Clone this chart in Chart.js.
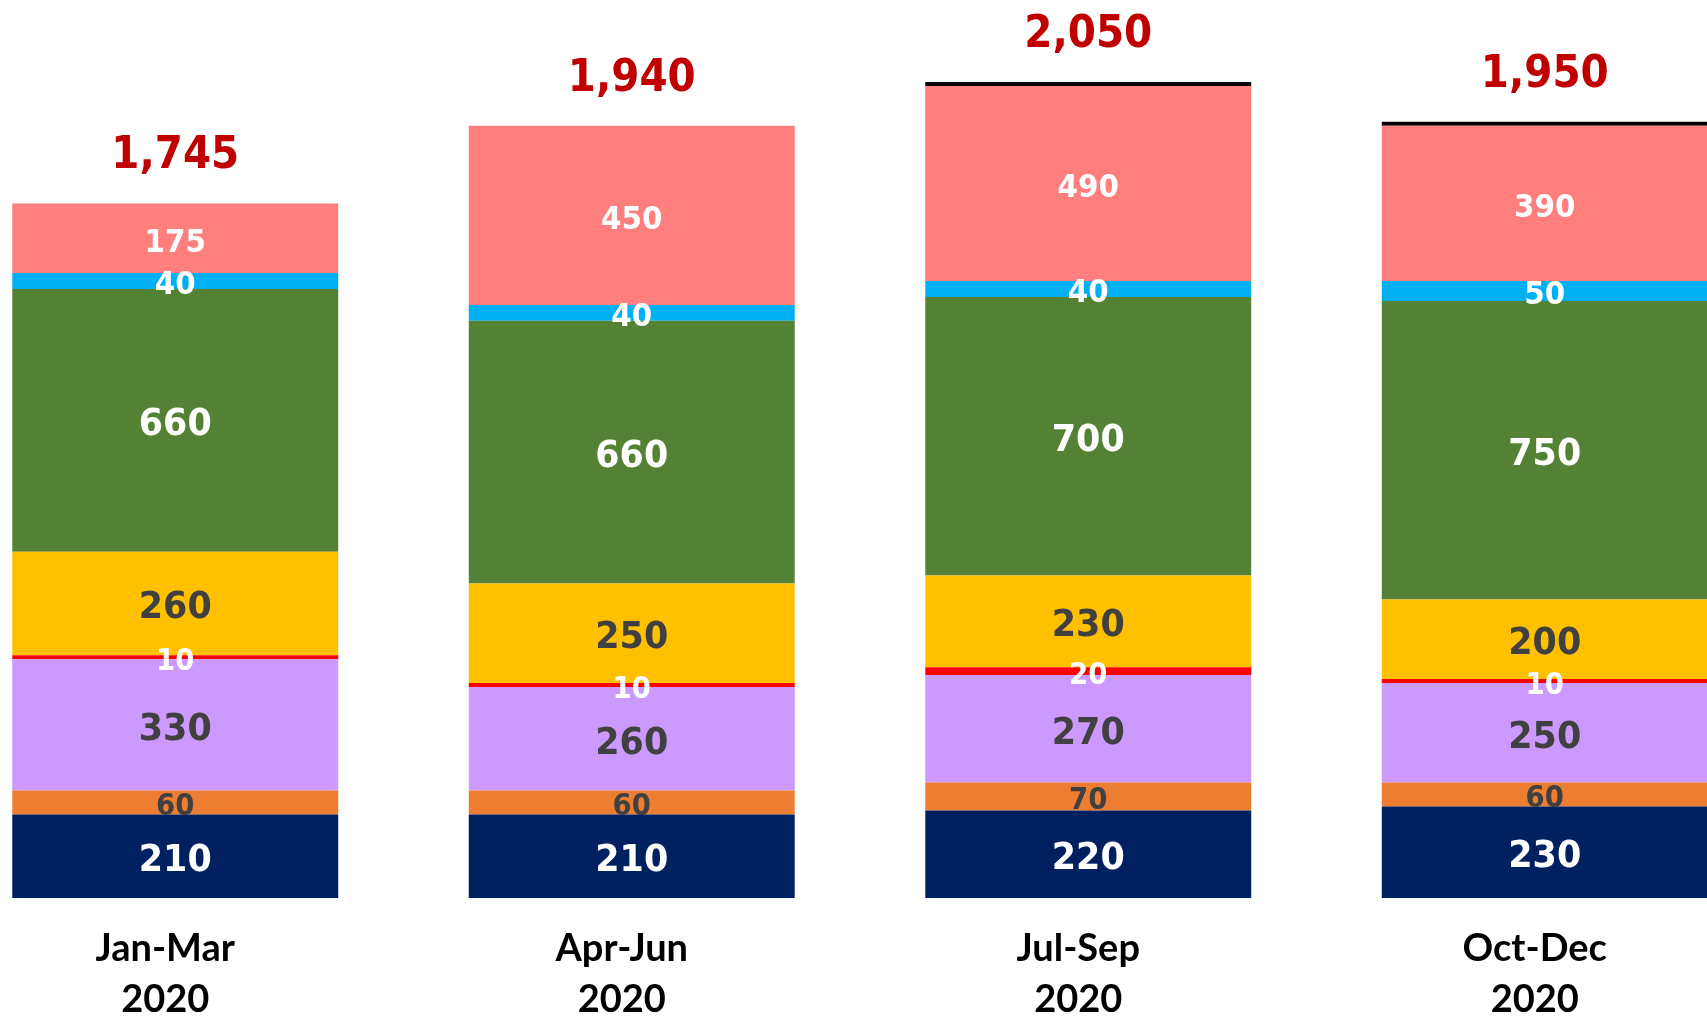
<!DOCTYPE html>
<html>
<head>
<meta charset="utf-8">
<script src="https://cdn.jsdelivr.net/npm/chart.js@4"></script>
<style>
  html, body { margin: 0; padding: 0; background: #fff; overflow: hidden; }
  #wrap { position: absolute; left: -53px; top: 0; width: 1826px; height: 1024px; }
</style>
</head>
<body>
<div id="wrap"><canvas id="quarterChart" width="1826" height="1024"></canvas></div>
<script>
// quarters shown on the x axis (two lines each)
const quarters = [['Jan-Mar', '2020'], ['Apr-Jun', '2020'], ['Jul-Sep', '2020'], ['Oct-Dec', '2020']];

// stacked segments, bottom to top
const navyValues   = [210, 210, 220, 230];
const orangeValues = [60, 60, 70, 60];
const lilacValues  = [330, 260, 270, 250];
const redValues    = [10, 10, 20, 10];
const yellowValues = [260, 250, 230, 200];
const greenValues  = [660, 660, 700, 750];
const blueValues   = [40, 40, 40, 50];
const pinkValues   = [175, 450, 490, 390];
const blackValues  = [0, 0, 10, 10];

const VALUE_FONT = '"DejaVu Sans", Verdana, sans-serif';
const SQUEEZE = 0.92; // DejaVu is a bit wider than the original font

function segment(data, color, labelColor, labelSize) {
  return {
    data: data,
    backgroundColor: color,
    borderWidth: 0,
    labelColor: labelColor,
    labelSize: labelSize
  };
}

const datasets = [
  segment(navyValues, '#002060', '#ffffff', 38),
  segment(orangeValues, '#ED7D31', '#404040', 30),
  segment(lilacValues, '#CC99FF', '#404040', 38),
  segment(redValues, '#FF0000', '#ffffff', 30),
  segment(yellowValues, '#FFC000', '#404040', 38),
  segment(greenValues, '#548235', '#ffffff', 38),
  segment(blueValues, '#00B0F0', '#ffffff', 32),
  segment(pinkValues, '#FF7F7F', '#ffffff', 32),
  segment(blackValues, '#000000', null, 0)
];

function squeezedText(ctx, text, x, y) {
  ctx.save();
  ctx.translate(x, y);
  ctx.scale(SQUEEZE, 1);
  ctx.fillText(text, 0, 0);
  ctx.restore();
}

// segment values, stack totals and quarter names
const labelPlugin = {
  id: 'labelPlugin',
  afterDatasetsDraw(chart) {
    const ctx = chart.ctx;
    const n = quarters.length;
    ctx.save();
    ctx.textAlign = 'center';

    // values inside each segment
    ctx.textBaseline = 'middle';
    chart.data.datasets.forEach((ds, di) => {
      if (!ds.labelColor) return;
      const meta = chart.getDatasetMeta(di);
      meta.data.forEach((bar, i) => {
        const v = ds.data[i];
        if (!v) return;
        ctx.fillStyle = ds.labelColor;
        ctx.font = 'bold ' + ds.labelSize + 'px ' + VALUE_FONT;
        squeezedText(ctx, v.toLocaleString('en-US'), bar.x, (bar.y + bar.base) / 2 + 5);
      });
    });

    // totals above the stack
    ctx.textBaseline = 'alphabetic';
    ctx.fillStyle = '#C00000';
    ctx.font = 'bold 44px ' + VALUE_FONT;
    const y = chart.scales.y;
    const x = chart.scales.x;
    for (let i = 0; i < n; i++) {
      const total = chart.data.datasets.reduce((s, ds) => s + (ds.data[i] || 0), 0);
      squeezedText(ctx, total.toLocaleString('en-US'), x.getPixelForValue(i), y.getPixelForValue(total) - 35);
    }

    // quarter names under the bars
    ctx.fillStyle = '#000000';
    ctx.font = 'bold 38px Lato, "Open Sans", sans-serif';
    const bottom = chart.chartArea.bottom;
    for (let i = 0; i < n; i++) {
      const cx = x.getPixelForValue(i);
      ctx.fillText(quarters[i][0], cx - 10, bottom + 63);
      ctx.fillText(quarters[i][1], cx - 10, bottom + 114);
    }
    ctx.restore();
  }
};

new Chart(document.getElementById('quarterChart'), {
  type: 'bar',
  data: {
    labels: quarters.map(q => q.join(' ')),
    datasets: datasets
  },
  options: {
    responsive: false,
    animation: false,
    devicePixelRatio: 1,
    layout: { padding: { top: 0, bottom: 126, left: 0, right: 0 } },
    datasets: {
      bar: { categoryPercentage: 1, barPercentage: 0.714 }
    },
    plugins: {
      legend: { display: false },
      tooltip: { enabled: false }
    },
    scales: {
      x: { stacked: true, display: false },
      y: { stacked: true, display: false, min: 0, max: 2256 }
    }
  },
  plugins: [labelPlugin]
});
</script>
</body>
</html>
